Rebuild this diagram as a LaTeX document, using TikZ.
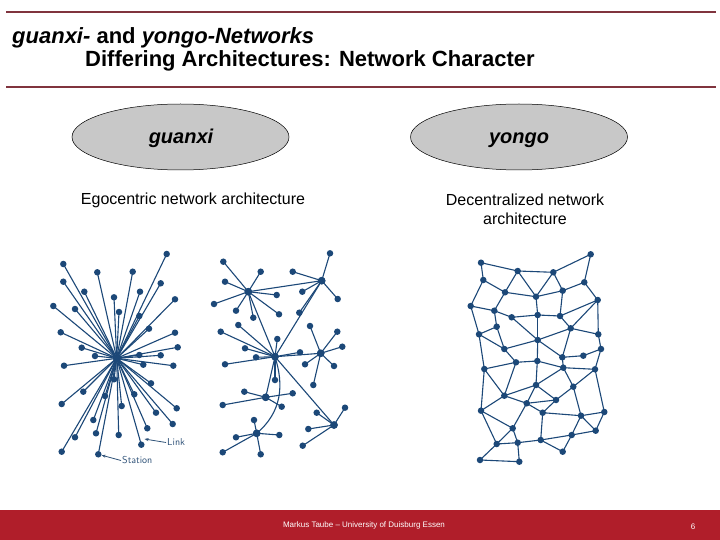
\documentclass[tikz,border=0pt]{standalone}
\usepackage{fontspec}
\setmainfont{Liberation Sans}
\usetikzlibrary{arrows.meta}
\definecolor{rulered}{RGB}{128,52,62}
\definecolor{footred}{RGB}{176,30,42}
\definecolor{netblue}{RGB}{28,72,120}
\definecolor{ellgray}{RGB}{200,200,200}
\tikzset{
  dot/.style={circle, fill=netblue, inner sep=0pt, minimum size=6.5bp},
  hubdot/.style={circle, fill=netblue, inner sep=0pt, minimum size=7.5bp},
  link/.style={draw=netblue, line width=1.1bp},
  titlerule/.style={draw=rulered, line width=2bp},
  titletext/.style={anchor=base west, inner sep=0pt, font=\fontsize{22bp}{24bp}\selectfont\bfseries},
  oval/.style={ellipse, draw=black, line width=0.5bp, fill=ellgray, minimum width=217bp, minimum height=66bp, inner sep=0pt},
  ovaltext/.style={anchor=base, inner sep=0pt, font=\fontsize{20bp}{24bp}\selectfont\bfseries\itshape},
  bodytext/.style={font=\fontsize{16bp}{19bp}\selectfont, align=center},
  lbl/.style={font=\fontsize{10bp}{11bp}\selectfont\sffamily, text=netblue!80!gray, inner sep=1pt},
}
\usetikzlibrary{shapes.geometric}
\begin{document}
\begin{tikzpicture}[x=1bp,y=-1bp]
\useasboundingbox (0,0) rectangle (720,540);
\fill[white] (0,0) rectangle (720,540);
% title rules
\coordinate (r1a) at (6,12); \coordinate (r1b) at (716,12);
\coordinate (r2a) at (6,87); \coordinate (r2b) at (716,87);
\draw[titlerule] (r1a) -- (r1b);
\draw[titlerule] (r2a) -- (r2b);
% titles
\node[titletext] (t1) at (12,43.5) {\textit{guanxi-} and \textit{yongo-Networks}};
\node[titletext] (t2) at (85,66.7) {Differing Architectures: Network Character};
% ovals
\node[oval] (og) at (180.5,137) {};
\node[ovaltext] (ogt) at (181,144) {guanxi};
\node[oval] (oy) at (519,137) {};
\node[ovaltext] (oyt) at (519,144) {yongo};
\node[bodytext] (eg) at (193,200) {Egocentric network architecture};
\node[bodytext] (dc) at (525,209.5) {Decentralized network\\architecture};
% ===== star network =====
\node[hubdot] (ghub) at (116.7,358.3) {};
\foreach \px/\py [count=\i] in {63.3/264, 166.7/254, 97.3/272.3, 132.7/271.7, 63.3/281.7, 160.7/283.3, 84.3/291.7, 140/291.7, 114/297.3, 53.3/306, 75/309, 175/299.3, 119/312, 139.3/316, 60.7/332.3, 149/328.7, 175/332.7, 81.7/347.7, 177.7/347.3, 95/356, 139.3/355, 160.7/355.3, 64/365.7, 143.3/364.7, 173.3/365.7, 151/383.3, 83.3/391.7, 114/379.3, 134.3/394.3, 105/396, 61.7/404, 121.7/406, 176.7/408.3, 156/412.7, 93.3/420, 147.3/428.3, 172.7/424, 75/437.3, 96/433.3, 118.7/435, 141.3/444.7, 61.7/451.7, 98.3/454.3}{
  \node[dot] (g\i) at (\px,\py) {};
  \draw[link] (ghub.center) -- (g\i.center);
}
\node[hubdot] at (ghub) {};
\coordinate (linkpt) at (144.5,439);
\node[lbl, anchor=west] (linklbl) at (166,442.5) {Link};
\draw[netblue!80!gray, line width=0.8bp, -{Stealth[length=4bp]}] (linklbl.west) -- (linkpt);
\node[lbl, anchor=west] (stlbl) at (121,460.5) {Station};
\draw[netblue!80!gray, line width=0.8bp, -{Stealth[length=4bp]}] (stlbl.west) -- (g43);
% ===== clustered network =====
\node[hubdot] (h1) at (248.3,291.7) {};
\node[hubdot] (h2) at (321.7,280.7) {};
\node[hubdot] (h3) at (275,356.7) {};
\node[hubdot] (h4) at (320.7,353.3) {};
\node[hubdot] (h5) at (265.7,397.3) {};
\node[hubdot] (h6) at (256.7,433.3) {};
\node[hubdot] (h7) at (334,425) {};
\foreach \hub/\pts in {
  h1/{223.3/261.7, 260.7/271.7, 225/281.7, 214/304, 236/310.7, 253.3/317.7, 276.7/295, 279/314.3},
  h2/{330/253.3, 292.7/271.7, 302.3/291.7, 337.7/299, 299.3/312.7},
  h3/{220.7/331.7, 238.3/325, 277.3/339, 245/348.3, 256/357.3, 225/364.3, 300/352.3, 275/380},
  h4/{310/326, 337.3/331.7, 342.3/346.7, 305/364.3, 334/366, 313.3/385},
  h5/{244.3/391.7, 292.7/393.3, 222.7/405, 281.7/406.7},
  h6/{254/420, 236/437.3, 279.3/435, 222.7/452.3, 260.7/454.3},
  h7/{345/407.7, 316.7/412.7, 308.3/429, 302.7/445.7}}{
  \foreach \px/\py [count=\j] in \pts {
    \node[dot] (\hub s\j) at (\px,\py) {};
    \draw[link] (\hub.center) -- (\hub s\j.center);
  }
}
\draw[link] (h1.center) -- (h2.center);
\draw[link] (h1.center) -- (h3.center);
\draw[link] (h2.center) -- (h3.center);
\draw[link] (h3.center) -- (h4.center);
\draw[link] (h3.center) -- (h5.center);
\draw[link] (h3.center) -- (h7.center);
\draw[link] (h3.center) .. controls (284,385) and (282,412) .. (h6.center);
\foreach \n in {h1,h2,h3,h4,h5,h6,h7} {\node[hubdot] at (\n) {};}
% ===== mesh network =====
\foreach \nm/\px/\py in {
  a1/481/262.7, a2/517.7/271, a3/553.3/272.3, a4/590.7/254.3,
  b1/483.3/280, b2/505/292.3, b3/536/296.7, b4/562.7/290.7, b5/584.3/282.3,
  c1/470.7/306, c2/494.3/310.7, c3/511.7/317.3, c4/537.7/315, c5/560/316, c6/597.7/300,
  d1/496.7/326.7, d2/570.7/328.3, d3/479/334.3, d4/598.3/334.3,
  e1/537.7/340, e2/504.3/349, e3/601/349, e4/562.3/357.3, e5/583.3/355.7,
  f1/516/362.3, f2/537.3/361, f3/484.3/369, f4/563.3/367.7, f5/595/369.3,
  g1/536/385, g2/573.3/386.7, g3/504.3/395.7, g4/526.7/403.3, g5/556/400,
  h1/481/410.7, h2/542.7/412.7, h3/581/415.7, h4/604.3/412,
  i1/512.7/428.3, i2/595.7/430.7, i3/571.7/435,
  j1/496.7/444, j2/517.7/442.7, j3/540.7/440, j4/562.7/451.7,
  k1/480/460, k2/519.3/461.7}{
  \coordinate (m\nm) at (\px,\py);
}
\foreach \u/\v in {a1/a2, a2/a3, a3/a4, a1/b1, a4/b5, a2/b2, a2/b3, a3/b3, a3/b4, b3/b4, b4/b5, b5/c6,
  b1/b2, b1/c1, b2/c2, b2/b3, b3/c4, b4/c5, c1/c2, c1/d3, c2/c3, c2/d1, c3/c4, c4/c5, c5/c6,
  c6/d2, c6/d4, c4/e1, c3/e1, d1/d3, d1/e2, d3/e2, d3/f3, e2/f1, e2/e1, e1/d2, e1/f2, c5/d2,
  d2/d4, d2/e4, d4/e3, e3/e5, e4/e5, e4/f4, e3/f5, f1/f2, f2/f4, f4/f5, f3/f1, f3/g3, f3/h1,
  f1/g3, f2/g1, f4/g1, f4/g2, f5/g2, f5/h4, g1/g3, g1/g4, g1/g5, g2/g5, g2/h3, g3/g4, g3/h1,
  g4/g5, g4/i1, g4/h2, h2/g5, h2/h3, h1/i1, h1/j1, h2/j3, h3/h4, h3/i3, h3/i2, h4/i2, i1/j1,
  i1/j2, i2/i3, i3/j3, i3/j4, j1/j2, j2/j3, j3/j4, j1/k1, j2/k2, k1/k2, e1/e4}{
  \draw[link] (m\u) -- (m\v);
}
\foreach \nm in {a1,a2,a3,a4,b1,b2,b3,b4,b5,c1,c2,c3,c4,c5,c6,d1,d2,d3,d4,e1,e2,e3,e4,e5,
  f1,f2,f3,f4,f5,g1,g2,g3,g4,g5,h1,h2,h3,h4,i1,i2,i3,j1,j2,j3,j4,k1,k2}{
  \node[dot] (n\nm) at (m\nm) {};
}
% ===== footer =====
\fill[footred] (0,510) rectangle (720,540);
\node[text=white, font=\fontsize{8bp}{9bp}\selectfont] (ft) at (364,525) {Markus Taube -- University of Duisburg Essen};
\node[text=white, font=\fontsize{8bp}{9bp}\selectfont] (pg) at (693,527) {6};
\end{tikzpicture}
\end{document}
